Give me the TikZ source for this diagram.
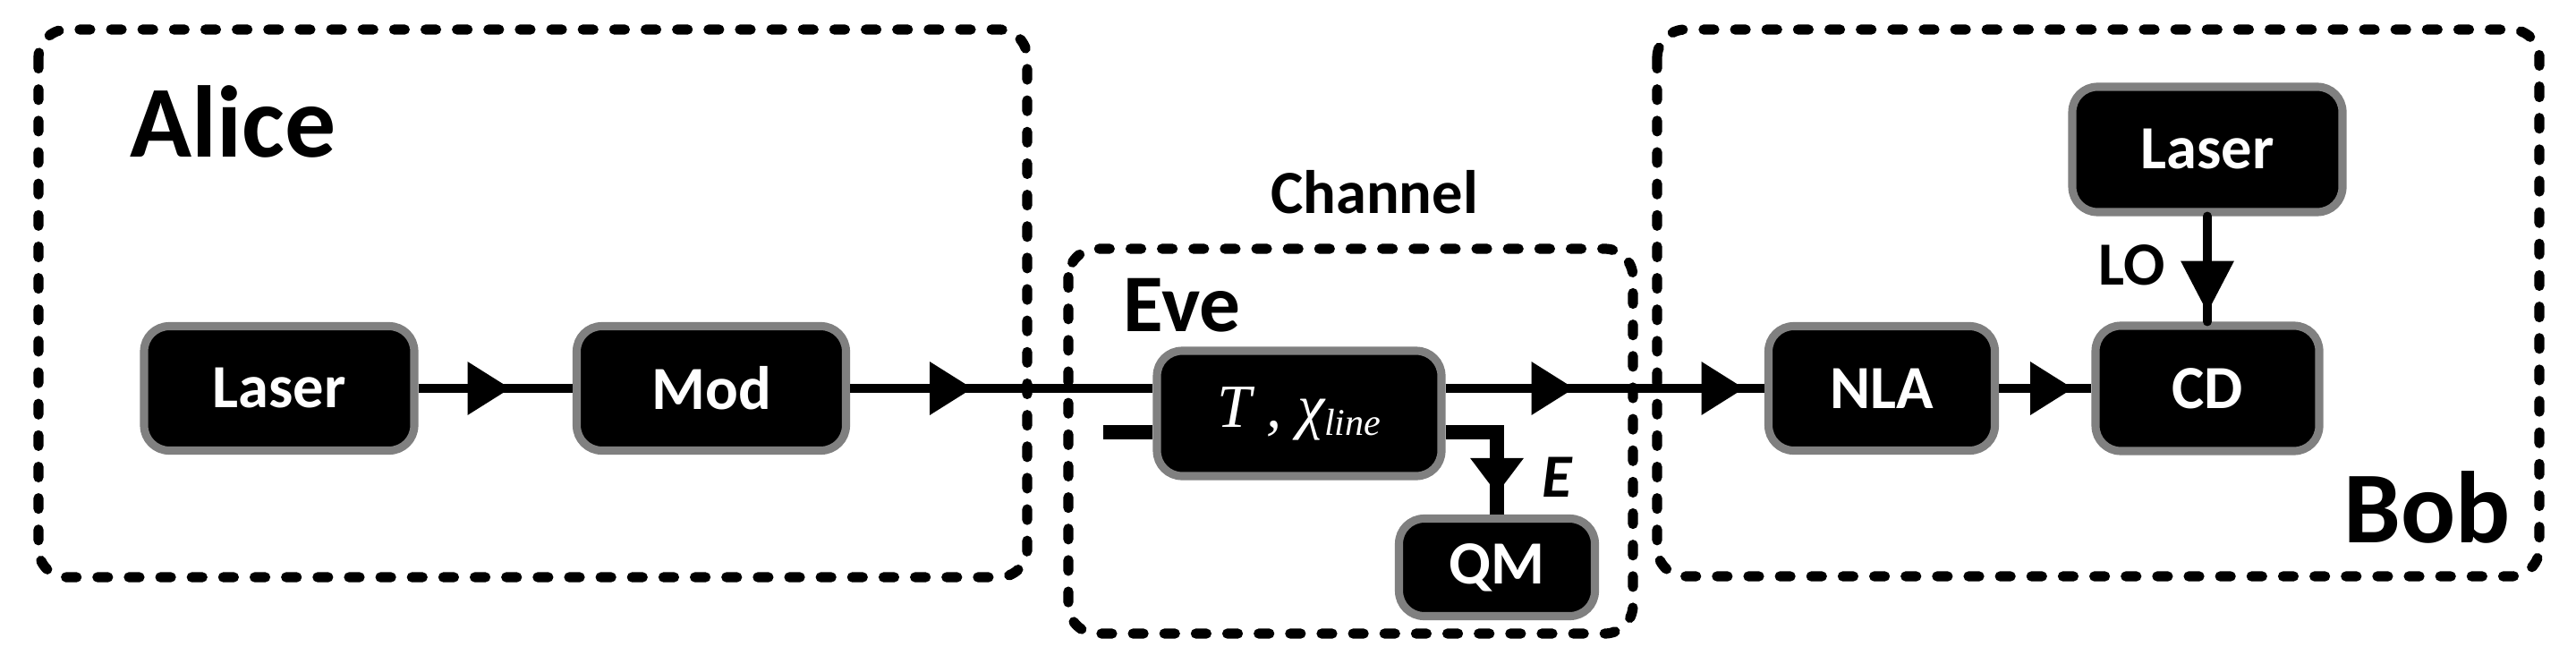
\documentclass[tikz,border=0pt]{standalone}
\usepackage{fontspec}
\setsansfont{Carlito}
\newfontfamily\tnr{Liberation Serif}
\usetikzlibrary{arrows.meta,decorations.markings}
\tikzset{unit/.style={draw=gray,line width=2.6pt,fill=black,rounded corners=8pt,inner sep=0pt,text=white,font=\sffamily\bfseries\fontsize{19.5}{20}\selectfont},
    party/.style={line width=3.2pt,line cap=round,dash pattern=on 3.4pt off 6.6pt,rounded corners=9pt},
    tag/.style={inner sep=0pt,font=\sffamily\bfseries\fontsize{19.5}{20}\selectfont},
    beam/.style={line width=2.85pt},
    fwd/.style 2 args={postaction={decorate,decoration={markings,mark=at position #1 with {\arrow{Triangle[length=#2,width=5.7mm]}}}}}}

\begin{document}
\begin{tikzpicture}
            \useasboundingbox (0,0) rectangle (28.79,7.41);
            % the three parties
            \draw [party] (0.43,7.08) rectangle (11.48,0.96);
            \draw [party] (11.94,4.63) rectangle (18.25,0.33);
            \draw [party] (18.52,7.08) rectangle (28.38,0.97);
            \node [tag,anchor=base west,font=\sffamily\bfseries\fontsize{32.4}{34}\selectfont] (alice) at (1.45,5.66) {Alice};
            \node [tag,anchor=base east,font=\sffamily\bfseries\fontsize{32.4}{34}\selectfont] (bob) at (28.06,1.35) {Bob};
            \node [tag,anchor=base west,font=\sffamily\bfseries\fontsize{26}{28}\selectfont] (eve) at (12.55,3.71) {Eve};
            \node [tag,anchor=base] (channel) at (15.36,5.03) {Channel};
            % boxes
            \node [unit,minimum width=3.02cm,minimum height=1.39cm] (laserA) at (3.12,3.07) {Laser};
            \node [unit,minimum width=3.01cm,minimum height=1.39cm] (mod) at (7.95,3.07) {Mod};
            \node [unit,minimum width=3.18cm,minimum height=1.40cm] (tbox) at (14.52,2.79)
                {\tnr\mdseries\itshape T , χ\raisebox{-2.6pt}{\fontsize{12}{12}\selectfont line}};
            \node [unit,minimum width=2.19cm,minimum height=1.09cm] (qm) at (16.73,1.07) {QM};
            \node [unit,minimum width=2.53cm,minimum height=1.39cm] (nla) at (21.03,3.07) {NLA};
            \node [unit,minimum width=2.50cm,minimum height=1.40cm] (cd) at (24.67,3.07) {CD};
            \node [unit,minimum width=3.02cm,minimum height=1.40cm] (laserB) at (24.67,5.74) {Laser};
            % signal path
            \draw [beam,fwd={10.3mm}{4.8mm}] (laserA) -- (mod);
            \draw [beam,fwd={13.7mm}{4.8mm}] (mod) -- (mod -| tbox.west);
            \draw [beam,fwd={14.4mm}{4.8mm},fwd={33.4mm}{4.8mm}] (mod -| tbox.east) -- (nla);
            \draw [beam,fwd={8.3mm}{4.8mm}] (nla) -- (cd);
            \draw [beam,line cap=round,fwd={10.8mm}{5.8mm}] (laserB) -- (cd);
            \node [tag,anchor=base west] (lo) at (23.45,4.23) {LO};
            % Eve's modes
            \coordinate (evein) at (12.33,2.58);
            \draw [line width=4.8pt] (evein) -- (evein -| tbox.west);
            \draw [line width=4.8pt,fwd={-2.3mm}{4mm}] (evein -| tbox.east) -| (qm);
            \node [tag,anchor=base west,font=\sffamily\bfseries\itshape\fontsize{19.5}{20}\selectfont] (e) at (17.23,1.86) {E};
        \end{tikzpicture}
\end{document}
